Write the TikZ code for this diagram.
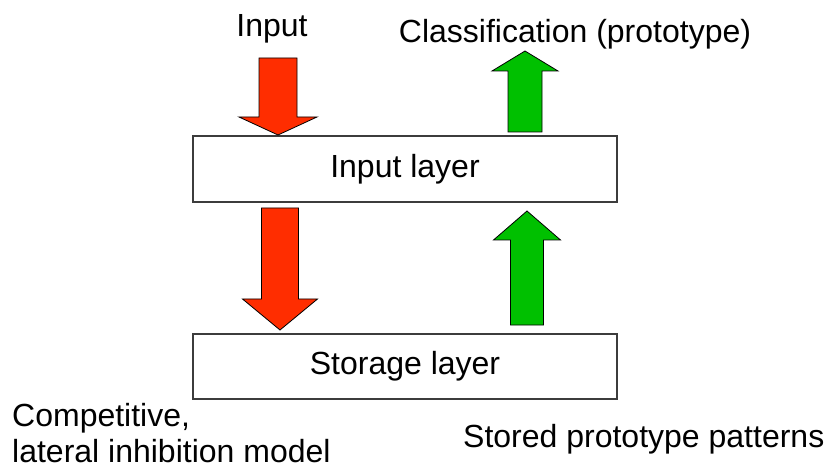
\documentclass[tikz,border=0pt]{standalone}
\usepackage{fontspec}
\setmainfont{Liberation Sans}
\usepackage{xcolor}
\usetikzlibrary{calc}
\definecolor{boxline}{HTML}{3C3C3C}
\definecolor{feedred}{HTML}{FF2D00}
\definecolor{backgreen}{HTML}{00C000}
\tikzset{
  layer/.style={draw=boxline, line width=1.5pt, fill=white, minimum width=424pt, inner sep=0pt},
  lab/.style={font=\fontsize{32}{36}\selectfont, inner sep=0pt},
  redarr/.style={fill=feedred, draw=black, line width=0.8pt, line join=miter},
  greenarr/.style={fill=backgreen, draw=black, line width=0.8pt, line join=miter},
}
% block arrow: style, x, tail y, base y, tip y, half shaft, half head
\newcommand{\blockarrow}[7]{%
  \draw[#1] ({#2-#6},#3) -- ({#2+#6},#3) -- ({#2+#6},#4) -- ({#2+#7},#4)
    -- (#2,#5) -- ({#2-#7},#4) -- ({#2-#6},#4) -- cycle;}

\begin{document}
\begin{tikzpicture}[x=1pt, y=-1pt]
  \useasboundingbox (0,0) rectangle (827,470);

  \node[layer, minimum height=66pt, lab] (input) at (405,169) {Input layer};
  \node[layer, minimum height=65pt, lab] (storage) at (405,366.5) {Storage layer};

  \node[lab, anchor=base] (intext) at (272,37) {Input};
  \node[lab, anchor=base] (classtext) at (575,43) {Classification (prototype)};
  \node[lab, anchor=base west] (storedtext) at (463,447) {Stored prototype patterns};
  \node[lab, anchor=base west, align=left] (comptext) at (12,462)
    {Competitive,\\lateral inhibition model};

  \blockarrow{redarr}{278}{58}{117}{135}{19}{39}
  \blockarrow{greenarr}{525}{132}{71}{51}{17}{33}
  \blockarrow{redarr}{280}{208}{299}{330}{18.5}{37.5}
  \blockarrow{greenarr}{527}{325}{240}{211}{16.5}{33.5}
\end{tikzpicture}
\end{document}
